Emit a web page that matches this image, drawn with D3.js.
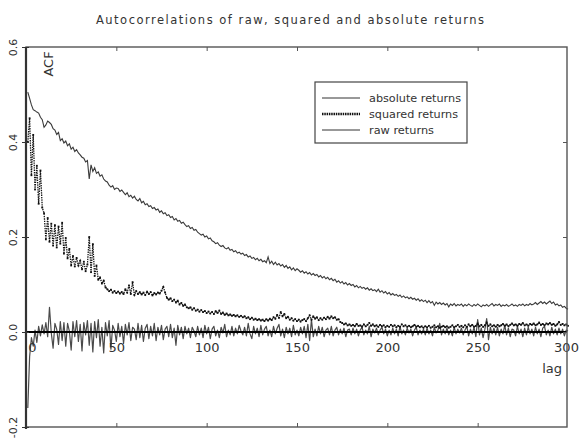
<!DOCTYPE html>
<html>
<head>
<meta charset="utf-8">
<script src="https://cdn.jsdelivr.net/npm/d3@7"></script>
<style>
  html, body { margin: 0; padding: 0; background: #fff; }
  svg { display: block; font-family: "DejaVu Sans", sans-serif; }
</style>
</head>
<body>
<svg id="chart" width="580" height="441"></svg>
<script>
// Sample autocorrelations, lags 1..300
const absReturns = [
  0.505,0.492,0.478,0.468,0.466,0.463,0.461,0.452,0.447,0.431,0.436,0.444,0.441,0.437,0.428,0.425,0.416,0.420,0.403,0.407,
  0.398,0.402,0.392,0.396,0.385,0.389,0.380,0.384,0.377,0.373,0.368,0.366,0.358,0.361,0.322,0.352,0.338,0.346,0.334,0.337,
  0.328,0.331,0.322,0.318,0.316,0.309,0.305,0.308,0.300,0.303,0.302,0.296,0.299,0.294,0.289,0.293,0.285,0.288,0.282,0.286,
  0.279,0.276,0.281,0.272,0.275,0.268,0.270,0.264,0.266,0.260,0.262,0.257,0.259,0.252,0.255,0.249,0.251,0.245,0.247,0.241,
  0.243,0.236,0.239,0.233,0.235,0.229,0.231,0.226,0.222,0.224,0.218,0.220,0.214,0.216,0.210,0.207,0.204,0.206,0.200,0.202,
  0.196,0.198,0.192,0.190,0.186,0.188,0.183,0.180,0.182,0.177,0.175,0.178,0.172,0.174,0.169,0.171,0.166,0.168,0.164,0.166,
  0.161,0.163,0.158,0.160,0.155,0.157,0.152,0.155,0.150,0.153,0.148,0.150,0.146,0.158,0.144,0.149,0.142,0.147,0.141,0.144,
  0.139,0.142,0.136,0.140,0.134,0.137,0.131,0.135,0.129,0.133,0.130,0.126,0.129,0.124,0.127,0.122,0.125,0.120,0.123,0.119,
  0.121,0.116,0.119,0.114,0.117,0.112,0.115,0.110,0.113,0.108,0.111,0.105,0.108,0.103,0.106,0.101,0.104,0.099,0.102,0.098,
  0.100,0.095,0.098,0.093,0.096,0.092,0.094,0.090,0.093,0.088,0.091,0.087,0.089,0.085,0.090,0.084,0.087,0.082,0.085,0.080,
  0.083,0.078,0.081,0.077,0.079,0.075,0.078,0.073,0.076,0.072,0.074,0.070,0.073,0.069,0.071,0.067,0.070,0.065,0.068,0.064,
  0.067,0.062,0.066,0.061,0.064,0.056,0.063,0.059,0.062,0.058,0.061,0.057,0.060,0.053,0.059,0.056,0.060,0.055,0.058,0.056,
  0.059,0.054,0.058,0.055,0.059,0.056,0.054,0.058,0.055,0.059,0.056,0.053,0.057,0.055,0.058,0.054,0.057,0.060,0.055,0.058,
  0.056,0.059,0.054,0.057,0.055,0.058,0.054,0.056,0.059,0.055,0.057,0.054,0.058,0.056,0.059,0.055,0.058,0.056,0.060,0.057,
  0.059,0.062,0.058,0.061,0.064,0.060,0.063,0.059,0.062,0.065,0.060,0.063,0.057,0.059,0.055,0.057,0.052,0.054,0.050,0.048
];

const sqReturns = [
  0.400,0.450,0.330,0.415,0.300,0.350,0.270,0.340,0.262,0.250,0.195,0.240,0.190,0.228,0.182,0.225,0.178,0.222,0.186,0.230,
  0.165,0.198,0.155,0.175,0.140,0.160,0.138,0.156,0.140,0.150,0.132,0.148,0.128,0.142,0.200,0.126,0.185,0.118,0.140,0.110,
  0.115,0.102,0.108,0.094,0.090,0.086,0.089,0.083,0.086,0.082,0.085,0.081,0.084,0.080,0.090,0.083,0.098,0.080,0.105,0.078,
  0.086,0.080,0.084,0.079,0.083,0.078,0.085,0.080,0.084,0.077,0.082,0.079,0.083,0.081,0.087,0.095,0.083,0.072,0.068,0.071,
  0.065,0.068,0.062,0.066,0.058,0.061,0.055,0.058,0.052,0.050,0.052,0.047,0.050,0.045,0.047,0.043,0.046,0.042,0.044,0.040,
  0.043,0.039,0.042,0.038,0.044,0.040,0.045,0.038,0.041,0.036,0.039,0.035,0.037,0.034,0.036,0.033,0.035,0.032,0.034,0.031,
  0.033,0.029,0.031,0.027,0.030,0.026,0.028,0.025,0.027,0.024,0.026,0.023,0.027,0.024,0.028,0.025,0.031,0.028,0.036,0.030,
  0.042,0.033,0.038,0.029,0.032,0.026,0.029,0.024,0.027,0.023,0.026,0.022,0.025,0.027,0.023,0.029,0.035,0.026,0.033,0.028,
  0.031,0.025,0.029,0.026,0.030,0.027,0.032,0.028,0.033,0.029,0.031,0.026,0.027,0.021,0.019,0.016,0.018,0.014,0.016,0.013,
  0.015,0.012,0.017,0.013,0.014,0.011,0.016,0.012,0.015,0.019,0.013,0.016,0.012,0.014,0.011,0.015,0.012,0.014,0.010,0.013,
  0.011,0.015,0.012,0.014,0.010,0.013,0.011,0.016,0.012,0.014,0.011,0.013,0.010,0.012,0.015,0.011,0.013,0.010,0.012,0.009,
  0.012,0.010,0.013,0.009,0.011,0.014,0.010,0.012,0.009,0.011,0.013,0.010,0.012,0.009,0.011,0.014,0.010,0.012,0.015,0.011,
  0.013,0.010,0.014,0.011,0.016,0.012,0.015,0.011,0.013,0.018,0.012,0.015,0.011,0.014,0.020,0.013,0.016,0.012,0.014,0.011,
  0.015,0.012,0.014,0.017,0.013,0.016,0.012,0.015,0.018,0.014,0.016,0.013,0.017,0.015,0.019,0.014,0.016,0.013,0.017,0.015,
  0.018,0.014,0.016,0.020,0.015,0.017,0.014,0.018,0.016,0.019,0.015,0.017,0.013,0.016,0.021,0.015,0.017,0.014,0.016,0.013
];

const rawReturns = [
  -0.160,-0.052,-0.012,-0.030,0.004,-0.022,0.012,-0.008,0.015,-0.004,0.020,-0.010,0.052,-0.002,-0.034,0.018,0.006,-0.026,0.022,-0.018,
  0.020,-0.030,0.018,0.002,-0.038,0.022,-0.010,0.024,-0.020,0.016,-0.040,0.020,-0.006,0.024,-0.028,0.018,-0.042,0.022,-0.012,0.026,
  -0.030,0.010,-0.044,0.020,-0.008,0.024,-0.036,0.014,0.004,-0.020,0.018,-0.010,0.012,-0.024,0.016,-0.006,0.020,-0.018,0.010,0.006,
  -0.016,0.018,-0.012,0.014,-0.020,0.008,0.016,-0.014,0.012,-0.008,0.018,-0.018,0.010,-0.006,0.014,-0.016,0.006,0.012,-0.010,0.016,
  -0.012,0.008,-0.028,0.014,-0.006,0.010,-0.014,0.012,-0.004,0.008,-0.012,0.010,0.002,-0.010,0.012,-0.006,0.008,-0.012,0.014,-0.004,
  0.010,-0.014,0.006,0.012,-0.008,0.004,-0.012,0.010,-0.002,0.016,-0.010,0.004,-0.006,0.012,-0.008,0.008,-0.004,0.014,0.002,-0.006,
  0.010,-0.008,0.018,-0.004,-0.014,0.012,-0.004,0.008,-0.010,0.014,-0.006,0.006,0.012,-0.008,0.004,-0.010,0.012,-0.004,0.008,0.016,
  -0.008,0.006,-0.012,0.010,-0.004,0.008,-0.010,0.014,-0.006,0.004,-0.008,0.010,-0.004,0.012,-0.012,0.016,-0.018,0.026,-0.010,0.006,
  -0.008,0.012,-0.004,0.010,-0.010,0.004,0.008,-0.006,0.012,-0.008,0.004,0.010,-0.006,0.006,-0.004,0.008,-0.010,0.004,0.006,-0.006,
  0.008,-0.004,0.006,-0.008,0.004,0.010,-0.006,0.004,-0.004,0.012,-0.010,0.006,-0.002,0.008,-0.006,0.004,0.010,-0.004,0.006,-0.008,
  0.004,-0.006,0.008,-0.004,0.006,-0.008,0.012,-0.004,0.004,-0.006,0.008,-0.002,0.006,-0.008,0.004,0.010,-0.006,0.004,-0.004,0.006,
  -0.006,0.008,-0.004,0.004,-0.008,0.010,-0.002,0.004,0.018,-0.006,0.006,-0.004,0.008,-0.006,0.004,-0.008,0.010,-0.004,0.006,-0.002,
  0.008,-0.006,0.004,0.012,-0.008,0.006,-0.004,0.010,-0.010,0.026,-0.006,0.008,-0.012,0.006,0.028,-0.016,0.010,-0.004,0.008,-0.006,
  0.010,-0.008,0.006,-0.004,0.014,-0.006,0.008,-0.010,0.006,0.004,-0.008,0.012,-0.004,0.006,-0.010,0.008,-0.006,0.010,-0.004,0.006,
  -0.008,0.010,-0.004,0.006,-0.010,0.008,0.012,-0.006,0.004,-0.008,0.010,-0.004,0.006,-0.006,0.008,-0.004,0.006,-0.008,0.004,0.002
];

const xTicks = [0, 50, 100, 150, 200, 250, 300];
const yTicks = [-0.2, 0.0, 0.2, 0.4, 0.6];
const legendLabels = ["absolute returns", "squared returns", "raw returns"];
const titleText = "Autocorrelations of raw, squared and absolute returns";

const svg = d3.select("#chart");
const box = { left: 26, right: 567, top: 47, bottom: 427 };

const x = d3.scaleLinear().domain([0, 300]).range([26, 568]);
const y = d3.scaleLinear().domain([-0.2, 0.6]).range([box.bottom, box.top]);

// title
svg.append("text")
  .attr("x", 290).attr("y", 24)
  .attr("text-anchor", "middle")
  .attr("font-size", 11.5).attr("fill", "#333")
  .attr("textLength", 388).attr("lengthAdjust", "spacing")
  .text(titleText);

// series
const line = d3.line().x((d, i) => x(i + 1)).y(d => y(d));
const plot = svg.append("g");

plot.append("path").datum(rawReturns)
  .attr("d", line).attr("fill", "none")
  .attr("stroke", "#4a4a4a").attr("stroke-width", 1.2)
  .attr("stroke-linejoin", "round");

plot.append("path").datum(absReturns)
  .attr("d", line).attr("fill", "none")
  .attr("stroke", "#3a3a3a").attr("stroke-width", 1.1);

// squared returns: dotted line with a small marker at each lag
plot.append("path").datum(sqReturns)
  .attr("d", line).attr("fill", "none")
  .attr("stroke", "#111").attr("stroke-width", 1.3)
  .attr("stroke-dasharray", "1.4,1");

plot.append("g").selectAll("rect").data(sqReturns).join("rect")
  .attr("x", (d, i) => x(i + 1) - 0.9)
  .attr("y", d => y(d) - 0.9)
  .attr("width", 1.8).attr("height", 1.8)
  .attr("fill", "#111");

// zero line with lag labels
svg.append("line")
  .attr("x1", box.left).attr("x2", box.right)
  .attr("y1", y(0)).attr("y2", y(0))
  .attr("stroke", "#000").attr("stroke-width", 2);

const xAxis = d3.axisBottom(x).tickValues(xTicks).tickSize(0).tickPadding(11)
  .tickFormat(d3.format("d"));
const gx = svg.append("g").attr("transform", `translate(0,${y(0)})`).call(xAxis);
gx.select(".domain").remove();
gx.selectAll("text")
  .attr("font-size", 13).attr("fill", "#333")
  .attr("font-family", "DejaVu Sans, sans-serif")
  .attr("dx", d => d === 0 ? 6 : (d === 300 ? -2 : 0));

svg.append("text")
  .attr("x", 562).attr("y", 373)
  .attr("text-anchor", "end")
  .attr("font-size", 13).attr("fill", "#333")
  .text("lag");

// frame
svg.append("rect")
  .attr("x", box.left).attr("y", box.top)
  .attr("width", box.right - box.left).attr("height", box.bottom - box.top)
  .attr("fill", "none").attr("stroke", "#555").attr("stroke-width", 1.4);
svg.append("line")
  .attr("x1", box.left).attr("x2", box.left)
  .attr("y1", box.top).attr("y2", box.bottom + 2)
  .attr("stroke", "#333").attr("stroke-width", 2.2);

// inward ticks on top and bottom of the frame
const innerX = xTicks.filter(d => d > 0 && d < 300);
svg.append("g").call(d3.axisTop(x).tickValues(innerX).tickSize(-4).tickFormat(""))
  .attr("transform", `translate(0,${box.top})`)
  .call(g => g.select(".domain").remove())
  .selectAll("line").attr("stroke", "#555");
svg.append("g").call(d3.axisBottom(x).tickValues(innerX).tickSize(-4).tickFormat(""))
  .attr("transform", `translate(0,${box.bottom})`)
  .call(g => g.select(".domain").remove())
  .selectAll("line").attr("stroke", "#555");

// y axis (left): rotated labels
const gy = svg.append("g").attr("transform", `translate(${box.left},0)`)
  .call(d3.axisLeft(y).tickValues(yTicks).tickSize(4).tickFormat(d3.format(".1f")));
gy.select(".domain").remove();
gy.selectAll("line").attr("stroke", "#333").attr("x2", 3).attr("x1", -4);
gy.selectAll("text").remove();
gy.selectAll(".tick").append("text")
  .attr("transform", "translate(-9,0) rotate(-90)")
  .attr("text-anchor", "middle")
  .attr("font-size", 11).attr("fill", "#333")
  .attr("font-family", "DejaVu Sans, sans-serif")
  .text(d => d3.format(".1f")(d).replace("\u2212", "-"));

// right side inward ticks
svg.append("g").attr("transform", `translate(${box.right},0)`)
  .call(d3.axisRight(y).tickValues(yTicks.filter(d => d > -0.2 && d < 0.6)).tickSize(-4).tickFormat(""))
  .call(g => g.select(".domain").remove())
  .selectAll("line").attr("stroke", "#555");

svg.append("text")
  .attr("transform", "translate(53,64) rotate(-90)")
  .attr("text-anchor", "middle")
  .attr("font-size", 13).attr("fill", "#333")
  .text("ACF");

// legend
const legendWidths = [92, 89, 65];
const lg = svg.append("g");
lg.append("rect")
  .attr("x", 315).attr("y", 82).attr("width", 152).attr("height", 61)
  .attr("fill", "#fff").attr("stroke", "#444").attr("stroke-width", 1.2);
const rowY = [98, 114, 130];
legendLabels.forEach((lab, i) => {
  const ln = lg.append("line")
    .attr("x1", 322).attr("x2", 360)
    .attr("y1", rowY[i]).attr("y2", rowY[i])
    .attr("stroke", i === 1 ? "#111" : "#333")
    .attr("stroke-width", i === 1 ? 2.4 : 1);
  if (i === 1) ln.attr("stroke-dasharray", "1.5,0.8");
  lg.append("text")
    .attr("x", 369).attr("y", rowY[i] + 4)
    .attr("font-size", 10.5).attr("fill", "#333")
    .attr("textLength", legendWidths[i]).attr("lengthAdjust", "spacingAndGlyphs")
    .text(lab);
});
</script>
</body>
</html>
